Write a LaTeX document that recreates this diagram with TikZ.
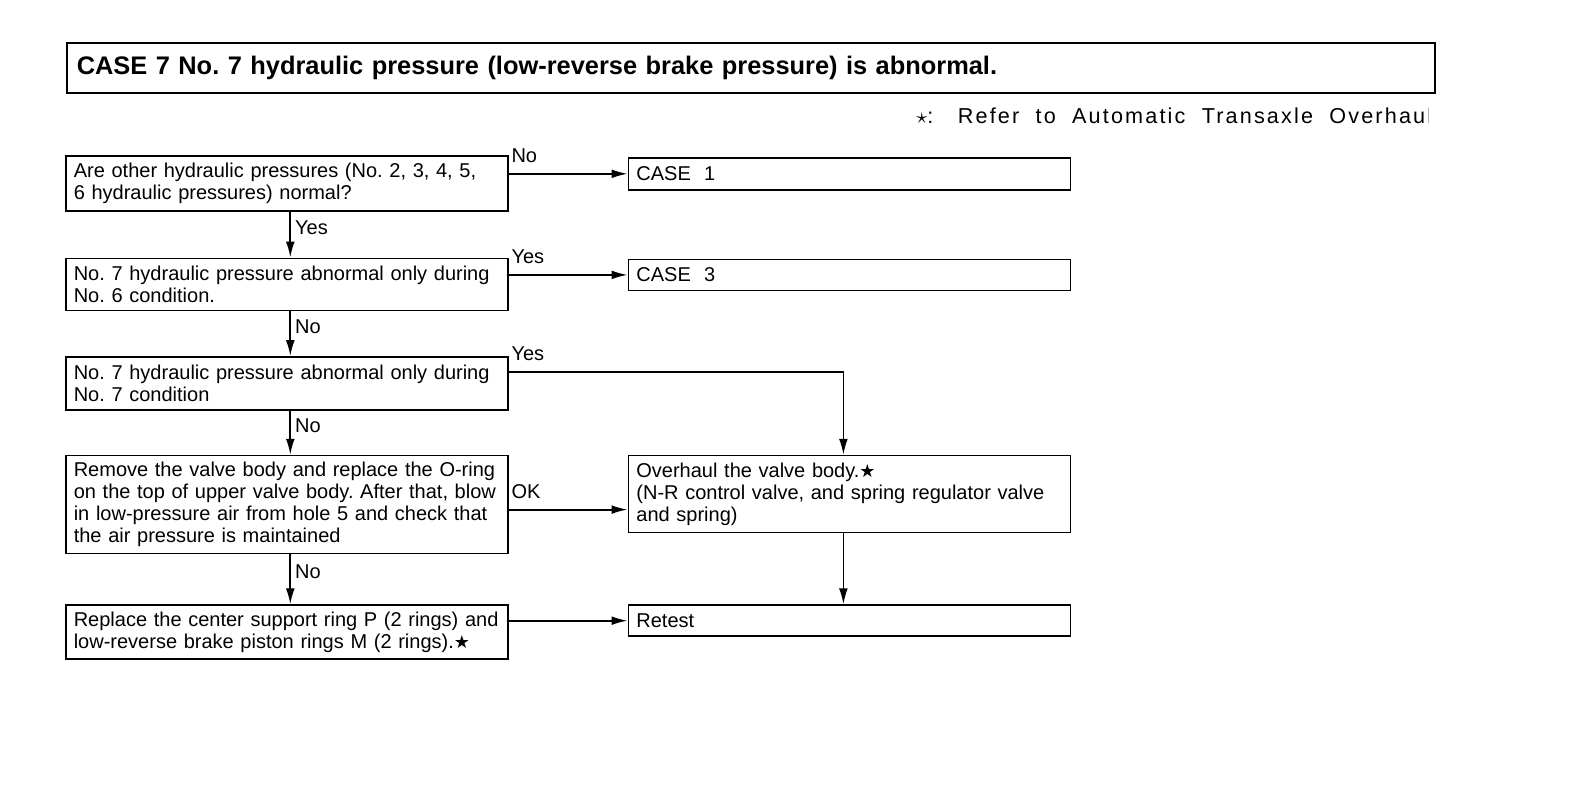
\documentclass[tikz,border=0pt]{standalone}
\usepackage{fontspec}
\setmainfont{Liberation Sans}
\newfontfamily\symfont{DejaVu Sans}
\newfontfamily\notefont{Liberation Sans}[LetterSpace=10]
\usetikzlibrary{positioning, arrows.meta}
\newcommand{\bstar}{{\symfont\small ★}}
\frenchspacing
\tikzset{
  stepbox/.style = {rectangle, draw, line width=0.8pt, text width=213pt,
                    inner xsep=4pt, align=left,
                    font=\fontsize{10}{11}\selectfont},
  casebox/.style = {stepbox, minimum height=15.5pt, inner ysep=1pt},
  flowlabel/.style = {font=\fontsize{10}{11}\selectfont, inner sep=1pt},
  flowarrow/.style = {-{Latex[length=8pt,width=4.4pt]}, line width=0.9pt}
}

\begin{document}
\begin{tikzpicture}
\useasboundingbox (0,0) rectangle (792pt,-405pt);
\node[draw, line width=0.8pt, anchor=north west, minimum height=25pt,
      text width=674pt, inner xsep=5pt, align=left,
      font=\fontsize{12.7}{14}\selectfont\bfseries] (title) at (33pt,-21pt)
      {CASE 7 No. 7 hydraulic pressure (low-reverse brake pressure) is abnormal.};
\begin{scope}
\clip (440pt,-50pt) rectangle (714pt,-70pt);
\node[anchor=base west, inner sep=0pt, font=\notefont\fontsize{10.8}{12}\selectfont]
      (note) at (458pt,-61.5pt) {$\star$:\ \ \ Refer\ \ to\ \ Automatic\ \ Transaxle\ \ Overhaul};
\end{scope}

% left column
\node[stepbox, anchor=north west, minimum height=27.5pt] (q1) at (32.5pt,-77.5pt)
      {Are other hydraulic pressures (No. 2, 3, 4, 5,\\ 6 hydraulic pressures) normal?};
\node[stepbox, minimum height=26pt, below=23pt of q1] (q2)
      {No. 7 hydraulic pressure abnormal only during\\ No. 6 condition.};
\node[stepbox, minimum height=26.5pt, below=22.5pt of q2] (q3)
      {No. 7 hydraulic pressure abnormal only during\\ No. 7 condition};
\node[stepbox, minimum height=48pt, below=22pt of q3] (chk)
      {Remove the valve body and replace the O-ring\\ on the top of upper valve body. After that, blow\\
       in low-pressure air from hole 5 and check that\\ the air pressure is maintained};
\node[stepbox, minimum height=25pt, below=25pt of chk] (rep)
      {Replace the center support ring P (2 rings) and\\ low-reverse brake piston rings M (2 rings).\bstar};

% right column
\node[casebox, anchor=north west, minimum height=16pt] (case1) at ([xshift=59.5pt,yshift=-1pt]q1.north east) {CASE\ \ 1};
\node[casebox, anchor=north west] (case3) at ([xshift=59.5pt,yshift=-0.5pt]q2.north east) {CASE\ \ 3};
\node[stepbox, anchor=north west, minimum height=38.5pt] (ovh) at ([xshift=59.5pt]chk.north east)
      {Overhaul the valve body.\bstar\\ (N-R control valve, and spring regulator valve\\ and spring)};
\node[casebox, anchor=north west] (retest) at ([xshift=59.5pt]rep.north east) {Retest};

% connectors
\draw[flowarrow] (q1.east |- case1.west) -- node[flowlabel, pos=0, above right, yshift=4pt]{No} (case1.west);
\draw[flowarrow] (q2.east |- case3.west) -- node[flowlabel, pos=0, above right, yshift=4pt]{Yes} (case3.west);
\draw[flowarrow] ([yshift=5.75pt]q3.east) -| node[flowlabel, pos=0, above right, yshift=4pt]{Yes} ([xshift=-3pt]ovh.north);
\draw[flowarrow] ([yshift=-2.5pt]chk.east) -- node[flowlabel, pos=0, above right, yshift=4pt]{OK} ([yshift=-2.5pt]chk.east -| ovh.west);
\draw[flowarrow] (rep.east |- retest.west) -- (retest.west);
\draw[flowarrow] ([xshift=-3pt]ovh.south) -- ([xshift=-3pt]retest.north);

\draw[flowarrow] ([xshift=1.75pt]q1.south) -- node[flowlabel, pos=0.35, right, xshift=1pt]{Yes} ([xshift=1.75pt]q2.north);
\draw[flowarrow] ([xshift=1.75pt]q2.south) -- node[flowlabel, pos=0.35, right, xshift=1pt]{No} ([xshift=1.75pt]q3.north);
\draw[flowarrow] ([xshift=1.75pt]q3.south) -- node[flowlabel, pos=0.35, right, xshift=1pt]{No} ([xshift=1.75pt]chk.north);
\draw[flowarrow] ([xshift=1.75pt]chk.south) -- node[flowlabel, pos=0.35, right, xshift=1pt]{No} ([xshift=1.75pt]rep.north);
\end{tikzpicture}
\end{document}
